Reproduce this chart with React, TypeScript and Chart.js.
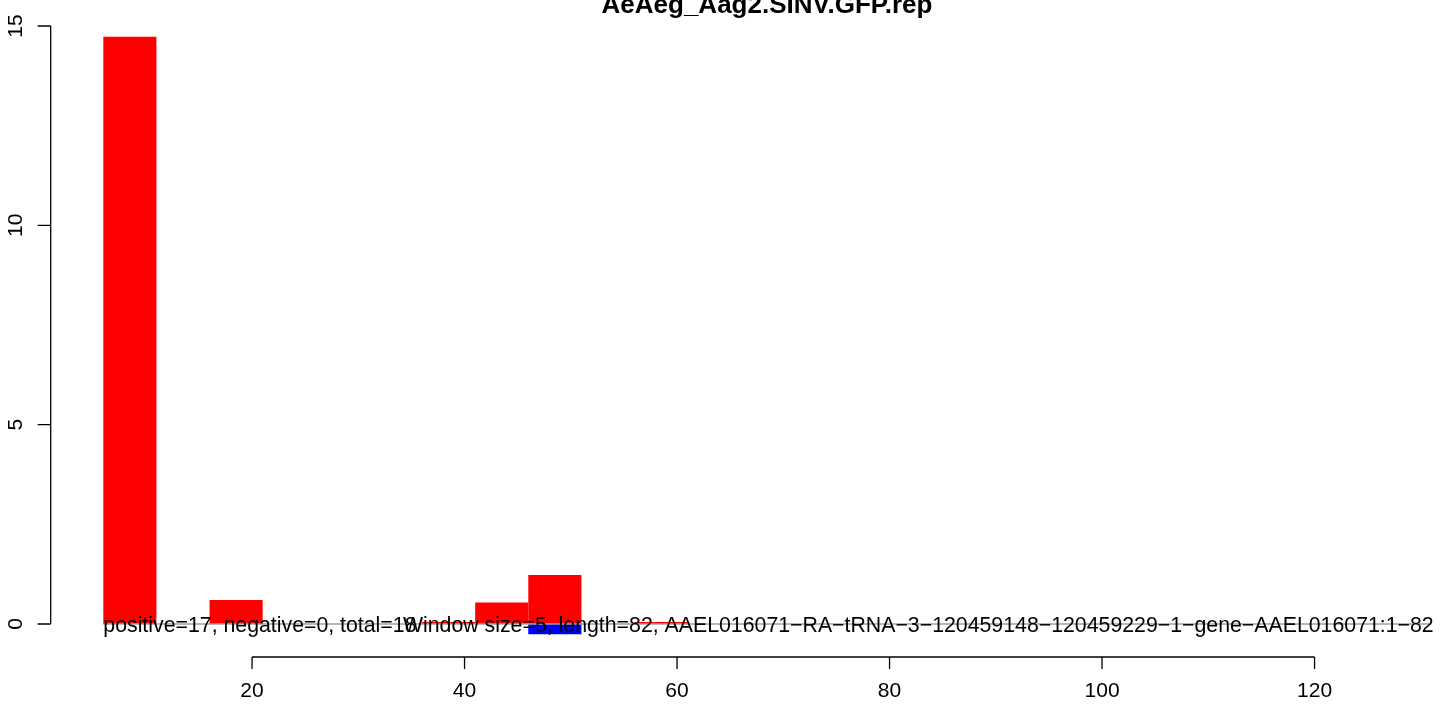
import { useEffect, useRef } from "react";
import { Chart, registerables } from "chart.js";

Chart.register(...registerables);

const chartTitle = "AeAeg_Aag2.SINV.GFP.rep";
const windowSize = 5;
const windowStart = [1, 6, 11, 16, 21, 26, 31, 36, 41, 46, 51, 56, 61, 66, 71, 76];
const positiveValues = [0, 14.73, 0, 0.6, 0, 0, 0, 0.05, 0.54, 1.23, 0, 0.05, 0, 0, 0, 0];
const negativeValues = [0, 0, 0, 0, 0, 0, 0, 0, 0, -0.26, 0, 0, 0, 0, 0, 0];
const yTicks = [0, 5, 10, 15];
const xTicks = [20, 40, 60, 80, 100, 120];
const leftNote = "positive=17, negative=0, total=18";
const rightNote =
  "Window size=5, length=82, AAEL016071\u2212RA\u2212tRNA\u22123\u2212120459148\u2212120459229\u22121\u2212gene\u2212AAEL016071:1\u221282";
const leftNoteAt = 6;
const rightNoteAt = 34.2;
const baselineEnd = 131;

const FONT = '"Liberation Sans", Arial, sans-serif';

const rPlot = {
  id: "rPlot",
  beforeDatasetsDraw(chart: any) {
    const { ctx } = chart;
    ctx.save();
    ctx.fillStyle = "#ffffff";
    ctx.fillRect(0, 0, chart.width, chart.height);
    ctx.restore();
  },
  afterDraw(chart: any) {
    const { ctx, chartArea } = chart;
    const xs = chart.scales.x;
    const ys = chart.scales.y;
    ctx.save();
    // zero line
    const y0 = ys.getPixelForValue(0);
    ctx.strokeStyle = "#a0a0a0";
    ctx.lineWidth = 1.5;
    ctx.beginPath();
    ctx.moveTo(xs.getPixelForValue(leftNoteAt), y0);
    ctx.lineTo(xs.getPixelForValue(baselineEnd), y0);
    ctx.stroke();

    // notes
    ctx.fillStyle = "#000";
    ctx.font = `21.3px ${FONT}`;
    ctx.textBaseline = "middle";
    ctx.textAlign = "left";
    ctx.fillText(leftNote, xs.getPixelForValue(leftNoteAt), y0 + 2.5);
    ctx.fillText(rightNote, xs.getPixelForValue(rightNoteAt), y0 + 2.5);

    // y axis
    ctx.strokeStyle = "#000";
    ctx.lineWidth = 1.3;
    const ax = chartArea.left;
    ctx.beginPath();
    ctx.moveTo(ax, ys.getPixelForValue(yTicks[0]));
    ctx.lineTo(ax, ys.getPixelForValue(yTicks[yTicks.length - 1]));
    for (const t of yTicks) {
      const p = ys.getPixelForValue(t);
      ctx.moveTo(ax, p);
      ctx.lineTo(ax - 13, p);
    }
    ctx.stroke();
    ctx.font = `21px ${FONT}`;
    ctx.textAlign = "center";
    ctx.textBaseline = "middle";
    for (const t of yTicks) {
      const p = ys.getPixelForValue(t);
      ctx.save();
      ctx.translate(16, p);
      ctx.rotate(-Math.PI / 2);
      ctx.fillText(String(t), 0, 0);
      ctx.restore();
    }

    // x axis
    const ay = chartArea.bottom;
    ctx.beginPath();
    ctx.moveTo(xs.getPixelForValue(xTicks[0]), ay);
    ctx.lineTo(xs.getPixelForValue(xTicks[xTicks.length - 1]), ay);
    for (const t of xTicks) {
      const p = xs.getPixelForValue(t);
      ctx.moveTo(p, ay);
      ctx.lineTo(p, ay + 12);
    }
    ctx.stroke();
    for (const t of xTicks) {
      ctx.fillText(String(t), xs.getPixelForValue(t), 691);
    }

    // title
    ctx.font = `bold 26px ${FONT}`;
    ctx.textBaseline = "alphabetic";
    ctx.fillText(chartTitle, 767, 13);
    ctx.restore();
  },
};

export default function App() {
  const ref = useRef<HTMLCanvasElement>(null);
  useEffect(() => {
    const canvas = ref.current;
    if (!canvas) return;
    const centers = windowStart.map((s) => s + windowSize / 2);
    const chart = new Chart(canvas, {
      type: "bar",
      data: {
        datasets: [
          {
            label: "positive",
            data: centers.map((x, i) => ({ x, y: positiveValues[i] })),
            backgroundColor: "#ff0000",
            borderWidth: 0,
            inflateAmount: 0,
            barPercentage: 1,
            categoryPercentage: 1,
          },
          {
            label: "negative",
            data: centers.map((x, i) => ({ x, y: negativeValues[i] })),
            backgroundColor: "#0000ff",
            borderWidth: 0,
            inflateAmount: 0,
            barPercentage: 1,
            categoryPercentage: 1,
          },
        ],
      },
      options: {
        animation: false,
        responsive: false,
        maintainAspectRatio: false,
        layout: { padding: { left: 50.7, right: 30, top: 13, bottom: 52 } },
        plugins: {
          legend: { display: false },
          tooltip: { enabled: false },
          title: { display: false },
        },
        scales: {
          x: { type: "linear", min: 1.05, max: 129.36, offset: false, stacked: true, display: false },
          y: { type: "linear", min: -0.828, max: 15.326, stacked: true, display: false },
        },
      },
      plugins: [rPlot],
    });
    return () => chart.destroy();
  }, []);
  return (
    <div style={{ position: "fixed", left: 0, top: 0, width: 1444, height: 709, background: "#fff" }}>
      <canvas ref={ref} width={1444} height={709} style={{ display: "block" }} />
    </div>
  );
}
